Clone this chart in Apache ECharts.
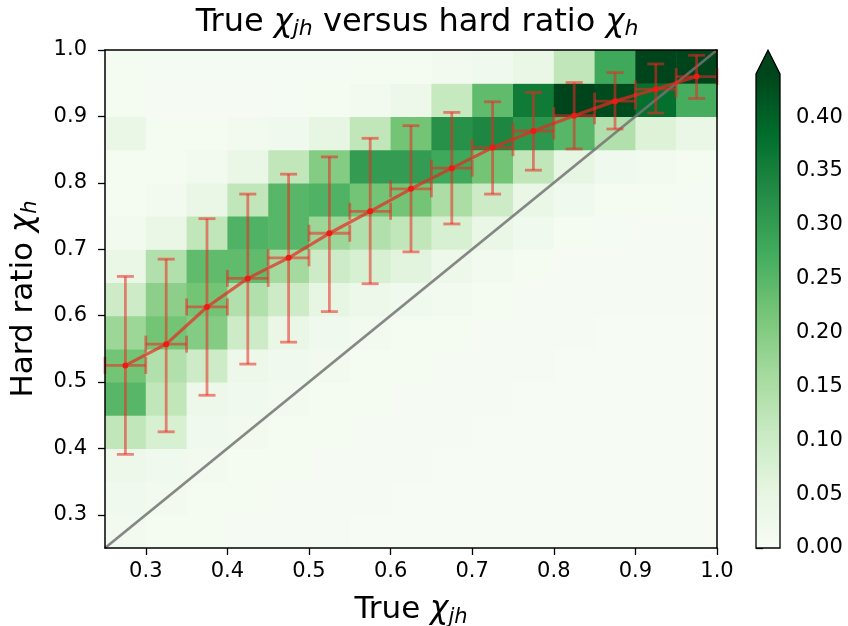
<!DOCTYPE html>
<html>
<head>
<meta charset="utf-8">
<script src="https://cdn.jsdelivr.net/npm/echarts@6/dist/echarts.min.js"></script>
<style>
html,body{margin:0;padding:0;background:#fff;}
#chart{width:848px;height:626px;}
</style>
</head>
<body>
<div id="chart"></div>
<script>
// ---- data ----
const xCenters = [0.275,0.325,0.375,0.425,0.475,0.525,0.575,0.625,0.675,0.725,0.775,0.825,0.875,0.925,0.975];
const yCenters = [0.275,0.325,0.375,0.425,0.475,0.525,0.575,0.625,0.675,0.725,0.775,0.825,0.875,0.925,0.975];
const binWidth = 0.05;

// fraction per cell, one array per y bin (bottom to top), values along x bins
const row0  = [0.015,0.010,0.010,0.006,0.005,0.005,0.004,0.004,0.004,0.004,0.004,0.004,0.004,0.004,0.004];
const row1  = [0.020,0.015,0.010,0.010,0.006,0.005,0.005,0.004,0.004,0.004,0.004,0.004,0.004,0.004,0.004];
const row2  = [0.030,0.020,0.015,0.010,0.010,0.006,0.005,0.005,0.004,0.004,0.004,0.004,0.004,0.004,0.004];
const row3  = [0.120,0.080,0.020,0.015,0.010,0.010,0.006,0.005,0.005,0.004,0.004,0.004,0.004,0.004,0.004];
const row4  = [0.250,0.120,0.030,0.020,0.015,0.010,0.010,0.006,0.005,0.005,0.004,0.004,0.004,0.004,0.004];
const row5  = [0.220,0.140,0.100,0.030,0.020,0.015,0.010,0.010,0.006,0.005,0.005,0.004,0.004,0.004,0.004];
const row6  = [0.170,0.220,0.200,0.100,0.040,0.020,0.015,0.010,0.010,0.006,0.005,0.005,0.004,0.004,0.004];
const row7  = [0.100,0.190,0.220,0.140,0.100,0.050,0.030,0.020,0.015,0.010,0.006,0.005,0.005,0.005,0.005];
const row8  = [0.040,0.140,0.240,0.240,0.160,0.100,0.080,0.060,0.030,0.015,0.010,0.006,0.005,0.005,0.005];
const row9  = [0.015,0.040,0.120,0.260,0.250,0.170,0.140,0.120,0.080,0.040,0.020,0.010,0.008,0.006,0.006];
const row10 = [0.010,0.015,0.040,0.120,0.250,0.260,0.220,0.220,0.150,0.100,0.040,0.020,0.010,0.010,0.008];
const row11 = [0.010,0.010,0.015,0.040,0.120,0.200,0.300,0.300,0.280,0.220,0.120,0.050,0.020,0.015,0.010];
const row12 = [0.040,0.010,0.010,0.015,0.020,0.050,0.120,0.220,0.320,0.340,0.310,0.250,0.140,0.070,0.040];
const row13 = [0.010,0.006,0.006,0.006,0.008,0.010,0.015,0.030,0.110,0.240,0.360,0.460,0.430,0.380,0.270];
const row14 = [0.010,0.008,0.008,0.008,0.008,0.008,0.010,0.010,0.015,0.020,0.040,0.120,0.280,0.470,0.470];
const rows = [row0,row1,row2,row3,row4,row5,row6,row7,row8,row9,row10,row11,row12,row13,row14];

// mean hard ratio per true bin, with error bar ends
const meanRatio = [0.525,0.557,0.613,0.656,0.687,0.724,0.757,0.791,0.822,0.853,0.878,0.901,0.923,0.941,0.960];
const lowRatio  = [0.391,0.425,0.480,0.527,0.560,0.606,0.648,0.696,0.738,0.783,0.819,0.851,0.881,0.905,0.927];
const highRatio = [0.659,0.685,0.746,0.783,0.813,0.839,0.867,0.886,0.906,0.922,0.936,0.951,0.966,0.979,0.992];

const diagonal = [[0.25,0.25],[1.0,1.0]];
const axisTicks = [0.3,0.4,0.5,0.6,0.7,0.8,0.9,1.0];
const cbTicks = [0,0.05,0.10,0.15,0.20,0.25,0.30,0.35,0.40];
const cbMax = 0.44;
const cbArrowTip = 0.462;
const greens = ['#f7fcf5','#e5f5e0','#c7e9c0','#a1d99b','#74c476','#41ab5d','#238b45','#006d2c','#00441b'];

// ---- build ----
const heatData = [];
rows.forEach((r, j) => r.forEach((v, i) => heatData.push([xCenters[i], yCenters[j], v])));
const errData = xCenters.map((x, i) => [x, meanRatio[i], lowRatio[i], highRatio[i]]);
const meanData = xCenters.map((x, i) => [x, meanRatio[i]]);

const chart = echarts.init(document.getElementById('chart'), null, {renderer: 'canvas'});
const FONT = 'DejaVu Sans';
const ERR = 'rgba(235,40,35,0.55)';

function richSet(size, subSize, subPad) {
  return {
    chi: {fontFamily: FONT, fontStyle: 'italic', fontWeight: 'normal', fontSize: size, color: '#000'},
    sub: {fontFamily: FONT, fontStyle: 'italic', fontWeight: 'normal', fontSize: subSize, color: '#000', verticalAlign: 'bottom', padding: [subPad, 0, 0, 0]},
    t: {fontFamily: FONT, fontWeight: 'normal', fontSize: size, color: '#000'}
  };
}

const option = {
  animation: false,
  backgroundColor: '#fff',
  title: {
    text: '{t|True }{chi|χ}{sub|jh}{t| versus hard ratio }{chi|χ}{sub|h}',
    left: 412, top: 1, textAlign: 'center',
    textStyle: {fontWeight: 'normal', rich: richSet(32, 22, 12)}
  },
  grid: [
    {left: 105, top: 50, width: 612, height: 498, containLabel: false, outerBoundsMode: 'none'},
    {left: 756, top: 74, width: 24, height: 474, containLabel: false, outerBoundsMode: 'none'}
  ],
  visualMap: {
    show: false, type: 'continuous', min: 0, max: cbMax, dimension: 2, seriesIndex: 0,
    inRange: {color: greens}
  },
  xAxis: [
    {
      type: 'value', gridIndex: 0, min: 0.25, max: 1.0, z: 10,
      axisLine: {show: true, onZero: false, lineStyle: {color: '#000', width: 1.5}},
      axisTick: {show: true, length: 7, customValues: axisTicks, lineStyle: {color: '#000', width: 1.3}},
      axisLabel: {customValues: axisTicks, formatter: v => v.toFixed(1), fontFamily: FONT, fontSize: 21, color: '#000', margin: 13},
      splitLine: {show: false},
      name: '{t|True }{chi|χ}{sub|jh}', nameLocation: 'middle', nameGap: 43,
      nameTextStyle: {rich: richSet(31, 21, 16)}
    },
    {
      type: 'value', gridIndex: 0, min: 0.25, max: 1.0, position: 'top', z: 10,
      axisLine: {show: true, onZero: false, lineStyle: {color: '#000', width: 1.5}},
      axisTick: {show: false}, axisLabel: {show: false}, splitLine: {show: false}
    },
    {type: 'value', gridIndex: 1, min: 0, max: 1, show: false}
  ],
  yAxis: [
    {
      type: 'value', gridIndex: 0, min: 0.25, max: 1.0, z: 10,
      axisLine: {show: true, onZero: false, lineStyle: {color: '#000', width: 1.5}},
      axisTick: {show: true, length: 7, customValues: axisTicks, lineStyle: {color: '#000', width: 1.3}},
      axisLabel: {customValues: axisTicks, formatter: v => v.toFixed(1), fontFamily: FONT, fontSize: 21, color: '#000', margin: 18},
      splitLine: {show: false},
      name: '{t|Hard ratio }{chi|χ}{sub|h}', nameLocation: 'middle', nameGap: 64, nameRotate: 90,
      nameTextStyle: {rich: richSet(31, 21, 14)}
    },
    {
      type: 'value', gridIndex: 0, min: 0.25, max: 1.0, position: 'right', z: 10,
      axisLine: {show: true, onZero: false, lineStyle: {color: '#000', width: 1.5}},
      axisTick: {show: false}, axisLabel: {show: false}, splitLine: {show: false}
    },
    {
      type: 'value', gridIndex: 1, min: 0, max: cbMax, position: 'right',
      axisLine: {show: false},
      axisTick: {show: true, length: 7, customValues: cbTicks, lineStyle: {color: '#000', width: 1.3}},
      axisLabel: {customValues: cbTicks, formatter: v => v.toFixed(2), fontFamily: FONT, fontSize: 21, color: '#000', margin: 16},
      splitLine: {show: false}
    }
  ],
  series: [
    {
      type: 'custom', name: 'hist', xAxisIndex: 0, yAxisIndex: 0, z: 1,
      data: heatData,
      renderItem: function (params, api) {
        const x = api.value(0), y = api.value(1);
        const p0 = api.coord([x - binWidth / 2, y + binWidth / 2]);
        const p1 = api.coord([x + binWidth / 2, y - binWidth / 2]);
        return {
          type: 'rect',
          shape: {x: p0[0], y: p0[1], width: p1[0] - p0[0] + 0.6, height: p1[1] - p0[1] + 0.6},
          style: {fill: api.visual('color')}
        };
      }
    },
    {
      type: 'line', name: 'diag', xAxisIndex: 0, yAxisIndex: 0, z: 3,
      data: diagonal, symbol: 'none',
      lineStyle: {color: 'rgba(115,115,115,0.85)', width: 2.8}
    },
    {
      type: 'custom', name: 'err', xAxisIndex: 0, yAxisIndex: 0, z: 4,
      data: errData,
      renderItem: function (params, api) {
        const x = api.value(0), m = api.value(1), lo = api.value(2), hi = api.value(3);
        const pl = api.coord([x, lo]), ph = api.coord([x, hi]);
        const pa = api.coord([x - binWidth / 2, m]), pb = api.coord([x + binWidth / 2, m]);
        const c = 8.5;
        const st = {stroke: ERR, lineWidth: 2.8, fill: null};
        const ln = (x1, y1, x2, y2) => ({type: 'line', shape: {x1, y1, x2, y2}, style: st});
        return {
          type: 'group',
          children: [
            ln(pl[0], pl[1], ph[0], ph[1]),
            ln(pl[0] - c, pl[1], pl[0] + c, pl[1]),
            ln(ph[0] - c, ph[1], ph[0] + c, ph[1]),
            ln(pa[0], pa[1], pb[0], pb[1]),
            ln(pa[0], pa[1] - c, pa[0], pa[1] + c),
            ln(pb[0], pb[1] - c, pb[0], pb[1] + c)
          ]
        };
      }
    },
    {
      type: 'line', name: 'mean', xAxisIndex: 0, yAxisIndex: 0, z: 5,
      data: meanData, symbol: 'circle', symbolSize: 6,
      itemStyle: {color: '#ee1a14'},
      lineStyle: {color: 'rgba(232,40,32,0.7)', width: 3.2}
    },
    {
      type: 'custom', name: 'colorbar', xAxisIndex: 2, yAxisIndex: 2, z: 2,
      data: [[0, cbMax, cbArrowTip]],
      renderItem: function (params, api) {
        const top = api.value(1), tip = api.value(2);
        const bl = api.coord([0, 0]), tr = api.coord([1, top]), tp = api.coord([0.5, tip]);
        const stops = greens.map((c, k) => ({offset: k / (greens.length - 1), color: c}));
        return {
          type: 'group',
          children: [
            {type: 'rect', shape: {x: bl[0], y: tr[1], width: tr[0] - bl[0], height: bl[1] - tr[1]},
             style: {fill: {type: 'linear', x: 0, y: 1, x2: 0, y2: 0, colorStops: stops}}},
            {type: 'polygon', shape: {points: [[bl[0], tr[1]], [tp[0], tp[1]], [tr[0], tr[1]]]},
             style: {fill: greens[greens.length - 1]}},
            {type: 'polygon', shape: {points: [[bl[0], bl[1]], [bl[0], tr[1]], [tp[0], tp[1]], [tr[0], tr[1]], [tr[0], bl[1]]]},
             style: {fill: null, stroke: '#000', lineWidth: 1.3}}
          ]
        };
      }
    }
  ]
};
chart.setOption(option);
</script>
</body>
</html>
